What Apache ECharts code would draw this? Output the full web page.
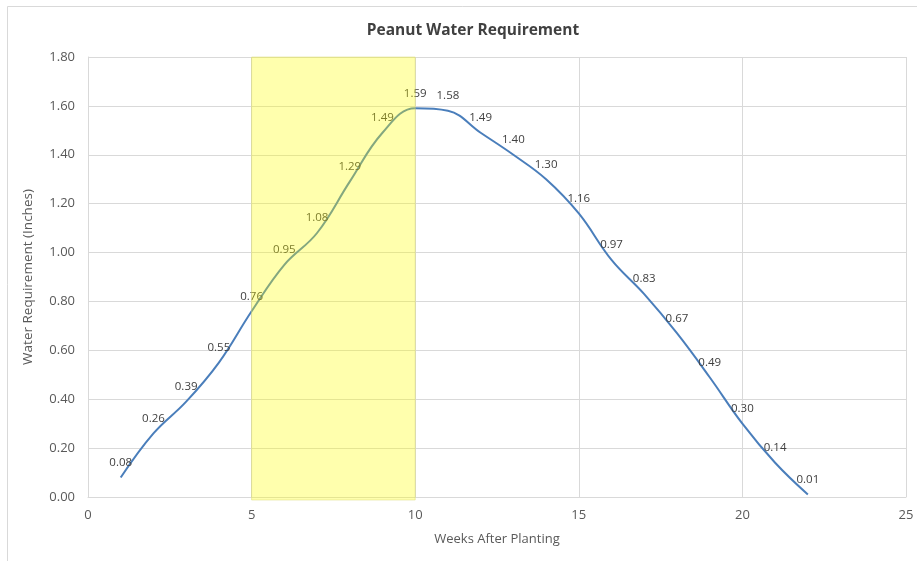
<!DOCTYPE html>
<html><head><meta charset="utf-8">
<script src="https://cdn.jsdelivr.net/npm/echarts@6/dist/echarts.min.js"></script>
<style>html,body{margin:0;padding:0;background:#fff}#c{width:917px;height:561px}</style>
</head><body><div id="c"></div>
<script>
const weeks = [1,2,3,4,5,6,7,8,9,10,11,12,13,14,15,16,17,18,19,20,21,22];
const water = [0.08,0.26,0.39,0.55,0.76,0.95,1.08,1.29,1.49,1.59,1.58,1.49,1.40,1.30,1.16,0.97,0.83,0.67,0.49,0.30,0.14,0.01];
const highlight = [5, 10];
const xTicks = [0, 25, 5];
const yTicks = [0, 1.8, 0.2];

const font = "'Open Sans', 'Noto Sans', sans-serif";
const chart = echarts.init(document.getElementById('c'), null, {renderer:'canvas'});
chart.setOption({
  animation:false,
  backgroundColor:'#fff',
  title:{text:'Peanut Water Requirement', left:468, textAlign:'center', top:18,
    textStyle:{fontFamily:font, fontSize:15.5, fontWeight:'bold', color:'#404040'}},
  graphic:[{type:'rect', shape:{x:7.5,y:6.5,width:930,height:560}, style:{fill:'none', stroke:'#D9D9D9', lineWidth:1}, silent:true}],
  grid:{left:88, right:11, top:57, bottom:64},
  xAxis:{type:'value', min:xTicks[0], max:xTicks[1], interval:xTicks[2],
    name:'Weeks After Planting', nameLocation:'middle', nameGap:36,
    nameTextStyle:{fontFamily:font, fontSize:13, color:'#595959'},
    axisLine:{show:true, lineStyle:{color:'#D9D9D9'}}, axisTick:{show:false},
    axisLabel:{fontFamily:font, fontSize:13, color:'#595959', margin:12},
    splitLine:{show:true, lineStyle:{color:'#D9D9D9'}}},
  yAxis:{type:'value', min:yTicks[0], max:yTicks[1], interval:yTicks[2],
    name:'Water Requirement (Inches)', nameLocation:'middle', nameGap:53,
    nameTextStyle:{fontFamily:font, fontSize:13.5, color:'#595959'},
    axisLine:{show:true, lineStyle:{color:'#D9D9D9'}}, axisTick:{show:false},
    axisLabel:{fontFamily:font, fontSize:13, color:'#595959', margin:13, formatter:v=>v.toFixed(2)},
    splitLine:{show:true, lineStyle:{color:'#D9D9D9'}}},
  series:[
    {type:'line', data:weeks.map((w,i)=>[w,water[i]]), smooth:0.4, showSymbol:true, symbol:'circle', symbolSize:0,
      itemStyle:{color:'#4A7EBB'},
      lineStyle:{color:'#4A7EBB', width:2},
      label:{show:true, position:'top', distance:9, fontFamily:font, fontSize:11.5, color:'#404040',
        formatter:p=>p.value[1].toFixed(2)}, z:2},
    {type:'custom', z:10, silent:true, data:[[highlight[0], highlight[1]]],
      renderItem:(params, api)=>{
        const p0 = api.coord([api.value(0), yTicks[1]]);
        const p1 = api.coord([api.value(1), yTicks[0]]);
        return {type:'rect', shape:{x:p0[0], y:p0[1], width:p1[0]-p0[0], height:p1[1]-p0[1]+3},
          style:{fill:'rgba(255,255,0,0.32)', stroke:'rgba(220,220,120,0.5)', lineWidth:1}};
      }}
  ]
});
</script></body></html>
